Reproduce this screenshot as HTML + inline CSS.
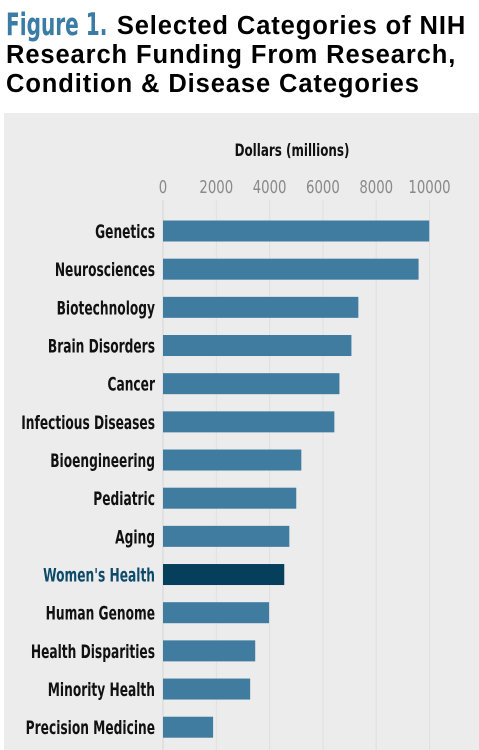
<!DOCTYPE html>
<html><head><meta charset="utf-8"><style>
body{margin:0;width:479px;height:750px;background:#fff;overflow:hidden;position:relative;font-family:"Liberation Sans",sans-serif}
#title{position:absolute;left:6px;top:11px;font-weight:bold;font-size:25.5px;line-height:29px;color:#000;white-space:nowrap;letter-spacing:0.9px}
#fig{color:#3a7ca5;font-family:"DejaVu Sans Condensed",sans-serif;font-weight:bold;font-size:31px;letter-spacing:0;display:inline-block;transform:scaleX(0.72);transform-origin:left;margin-right:-38px;vertical-align:-1px}
#panel{position:absolute;left:4px;top:113px;width:475px;height:637px;background:#ececec}
svg{position:absolute;left:0;top:0}
</style></head><body>
<div id="title"><span id="fig">Figure 1.</span> Selected Categories of NIH<br>Research Funding From Research,<br>Condition &amp; Disease Categories</div>
<div id="panel"></div>
<svg id="chart" width="479" height="750"></svg>
<script>
const categories=["Genetics","Neurosciences","Biotechnology","Brain Disorders","Cancer","Infectious Diseases","Bioengineering","Pediatric","Aging","Women's Health","Human Genome","Health Disparities","Minority Health","Precision Medicine"];
const values=[9990,9590,7330,7070,6620,6430,5190,5000,4740,4550,3980,3460,3270,1880];
const ticks=[0,2000,4000,6000,8000,10000];
const highlight="Women's Health";
const NS="http://www.w3.org/2000/svg";
const svg=document.getElementById('chart');
const x=v=>163+v*0.02665;
const y=i=>231+i*38.17;
const narrow='"DejaVu Sans Condensed","Liberation Sans",sans-serif';
function mk(t,a){const e=document.createElementNS(NS,t);for(const k in a)e.setAttribute(k,a[k]);svg.appendChild(e);return e;}
ticks.forEach(t=>{
 const g=mk('line',{x1:x(t),x2:x(t),y1:200,y2:750,stroke:t===0?'#d6d6d6':'#e0e0e0','stroke-width':1});
 
 
 const l=mk('text',{x:x(t),y:193,'text-anchor':'middle','font-size':18,fill:'#8a8a8a','font-family':narrow,transform:`translate(${x(t)},0) scale(0.82,1) translate(${-x(t)},0)`});
 l.textContent=t;
 
 
});
const at=mk('text',{x:292,y:156,'text-anchor':'middle','font-size':17,'font-weight':'bold',fill:'#111','font-family':narrow,transform:'translate(292,0) scale(0.78,1) translate(-292,0)'});
at.textContent='Dollars (millions)';


categories.forEach((c,i)=>{
 const hl=c===highlight;
 const b=mk('rect',{x:x(0),y:y(i)-10.5,width:x(values[i])-x(0),height:21,fill:hl?'#063f5c':'#3f7ca0'});
 
 
 const t=mk('text',{x:155,y:y(i)+7,'text-anchor':'end','font-size':18.5,'font-weight':'bold',fill:hl?'#0d4a6a':'#111','font-family':narrow,transform:`translate(155,0) scale(0.735,1) translate(-155,0)`});
 t.textContent=c;
 
 
});
</script>
</body></html>
